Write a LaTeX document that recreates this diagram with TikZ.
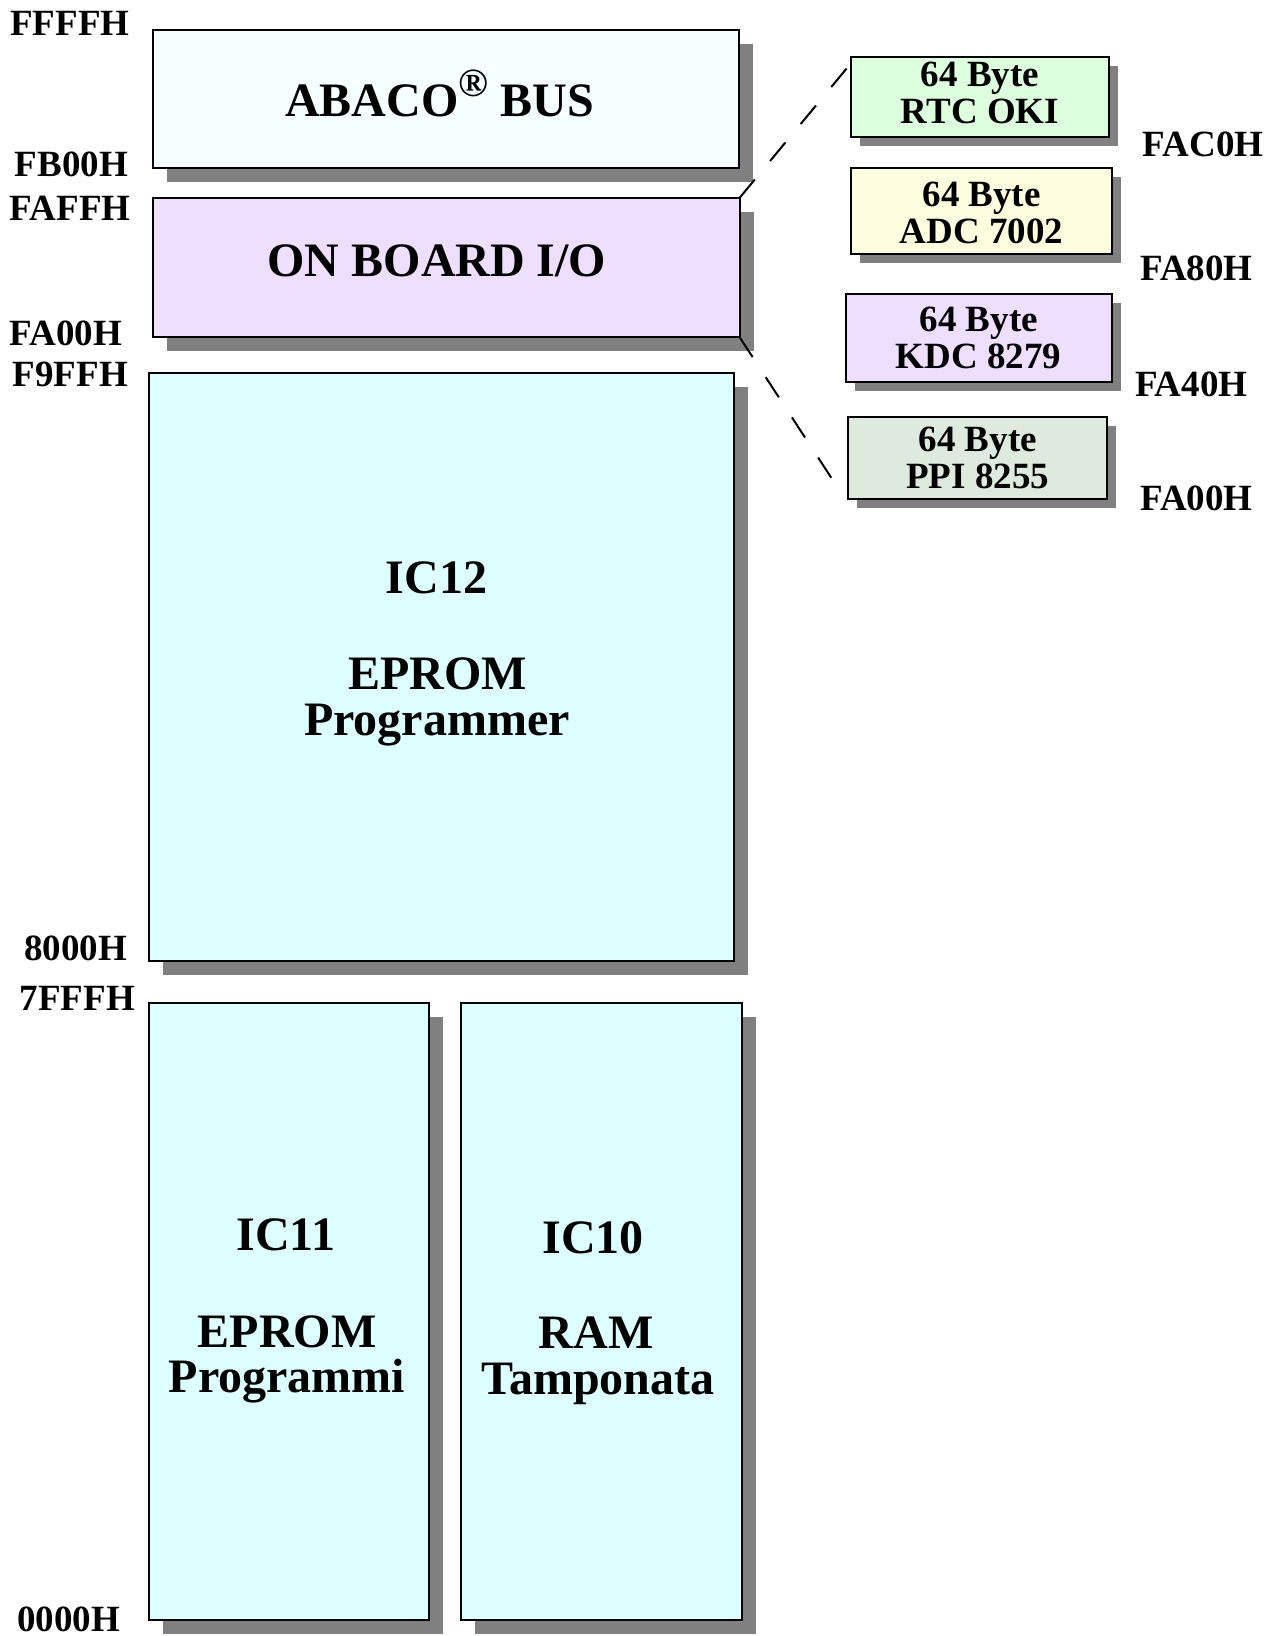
\documentclass[tikz,border=0pt]{standalone}
\usepackage{fontspec}
\setmainfont{Liberation Serif}
\usetikzlibrary{shadows}
\definecolor{shadowgray}{RGB}{128,128,128}
\definecolor{abacofill}{RGB}{245,255,255}
\definecolor{iofill}{RGB}{238,222,255}
\definecolor{icfill}{RGB}{221,255,255}
\definecolor{rtcfill}{RGB}{221,255,221}
\definecolor{adcfill}{RGB}{255,253,224}
\definecolor{ppifill}{RGB}{222,234,222}
\begin{document}
\begin{tikzpicture}[x=1pt,y=-1pt,
  bigbox/.style={draw=black, line width=2pt, inner sep=0pt, outer sep=0pt,
    drop shadow={shadow xshift=14pt, shadow yshift=-14pt, fill=shadowgray, opacity=1}},
  smallbox/.style={draw=black, line width=2pt, inner sep=0pt, outer sep=0pt,
    drop shadow={shadow xshift=9pt, shadow yshift=-9pt, fill=shadowgray, opacity=1}},
  bigtxt/.style={anchor=base, inner sep=0pt, font=\fontsize{48}{48}\selectfont\bfseries},
  smalltxt/.style={anchor=base, inner sep=0pt, font=\fontsize{37}{37}\selectfont\bfseries},
  addr/.style={anchor=base west, inner sep=0pt, font=\fontsize{37}{37}\selectfont\bfseries},
  dashline/.style={draw=black, line width=2pt, dash pattern=on 24pt off 24pt}]
\useasboundingbox (0,0) rectangle (1277,1636);
\fill[white] (0,0) rectangle (1277,1636);

% main boxes
\node[bigbox, fill=abacofill, minimum width=586pt, minimum height=138pt] (abaco) at (446,99) {};
\node[bigbox, fill=iofill, minimum width=586.5pt, minimum height=139pt] (onboard) at (446.25,267.5) {};
\node[bigbox, fill=icfill, minimum width=585.5pt, minimum height=587.7pt] (ic12) at (441.25,667.15) {};
\node[bigbox, fill=icfill, minimum width=280.7pt, minimum height=617pt] (ic11) at (288.95,1311.5) {};
\node[bigbox, fill=icfill, minimum width=281pt, minimum height=617pt] (ic10) at (601.5,1311.5) {};

% small boxes
\node[smallbox, fill=rtcfill, minimum width=258pt, minimum height=80pt] (rtc) at (980,96.7) {};
\node[smallbox, fill=adcfill, minimum width=261.7pt, minimum height=85.7pt] (adc) at (981.6,211.2) {};
\node[smallbox, fill=iofill, minimum width=266pt, minimum height=87.7pt] (kdc) at (978.7,337.8) {};
\node[smallbox, fill=ppifill, minimum width=259pt, minimum height=82.6pt] (ppi) at (977.8,458) {};

% texts in main boxes
\node[bigtxt] (tabaco) at (439.5,116.7) {ABACO{\fontsize{40}{40}\selectfont\raisebox{20pt}{®}} BUS};
\node[bigtxt] (tonboard) at (437,276.7) {ON BOARD I/O};
\node[bigtxt] (tic12a) at (436.5,593) {IC12};
\node[bigtxt] (tic12b) at (437.5,689) {EPROM};
\node[bigtxt] (tic12c) at (437,735) {Programmer};
\node[bigtxt] (tic11a) at (286,1250) {IC11};
\node[bigtxt] (tic11b) at (287,1347) {EPROM};
\node[bigtxt] (tic11c) at (287,1392) {Programmi};
\node[bigtxt] (tic10a) at (593,1253) {IC10};
\node[bigtxt] (tic10b) at (596,1348) {RAM};
\node[bigtxt] (tic10c) at (598,1394) {Tamponata};

% texts in small boxes
\node[smalltxt] (trtca) at (980,86.7) {64 Byte};
\node[smalltxt] (trtcb) at (980,123.3) {RTC OKI};
\node[smalltxt] (tadca) at (981.6,206.7) {64 Byte};
\node[smalltxt] (tadcb) at (981.6,243.3) {ADC 7002};
\node[smalltxt] (tkdca) at (978.7,331.7) {64 Byte};
\node[smalltxt] (tkdcb) at (978.7,368.3) {KDC 8279};
\node[smalltxt] (tppia) at (977.8,451.7) {64 Byte};
\node[smalltxt] (tppib) at (977.8,488.3) {PPI 8255};

% left addresses
\node[addr] (aFFFF) at (10,35) {FFFFH};
\node[addr] (aFB00) at (14.6,176.7) {FB00H};
\node[addr] (aFAFF) at (9.7,220) {FAFFH};
\node[addr] (aFA00l) at (9.7,345) {FA00H};
\node[addr] (aF9FF) at (12.5,386) {F9FFH};
\node[addr] (a8000) at (24,960) {8000H};
\node[addr] (a7FFF) at (19.5,1010) {7FFFH};
\node[addr] (a0000) at (17,1631) {0000H};

% right addresses
\node[addr] (aFAC0) at (1142.7,156) {FAC0H};
\node[addr] (aFA80) at (1140,280.7) {FA80H};
\node[addr] (aFA40) at (1134.8,396) {FA40H};
\node[addr] (aFA00r) at (1140,510) {FA00H};

% dashed expansion lines
\coordinate (rtcend) at (847,68);
\coordinate (ppiend) at (834.7,483);
\draw[dashline] (onboard.north east) -- (rtcend);
\draw[dashline] (onboard.south east) -- (ppiend);
\end{tikzpicture}
\end{document}
